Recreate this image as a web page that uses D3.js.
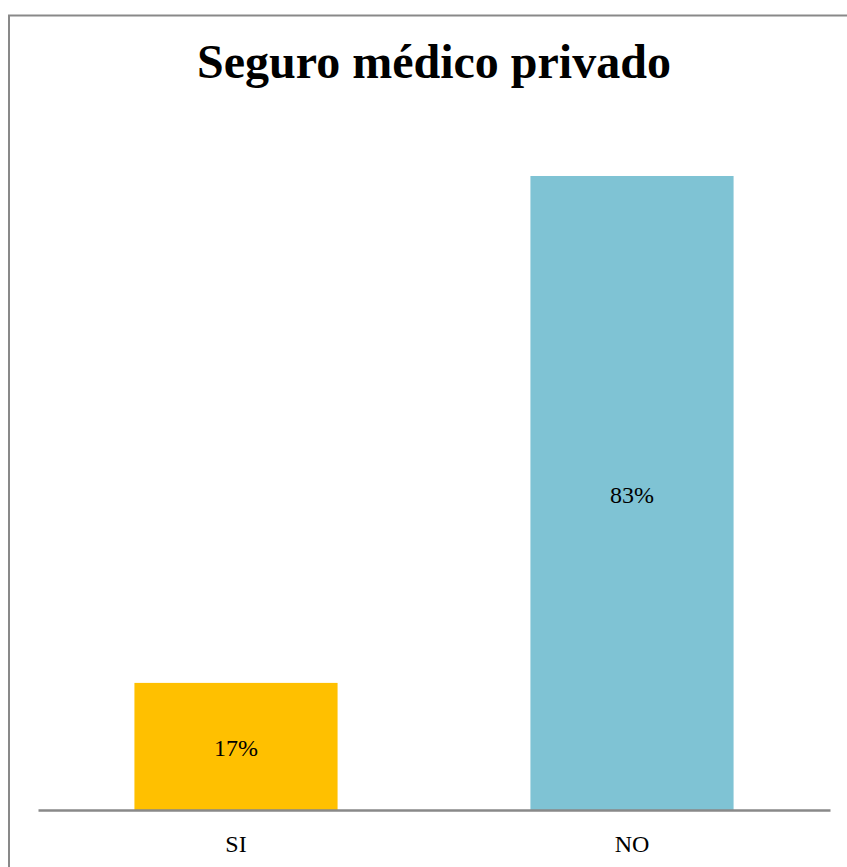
<!DOCTYPE html>
<html>
<head>
<meta charset="utf-8">
<script src="https://cdn.jsdelivr.net/npm/d3@7"></script>
<style>
  body { margin: 0; background: #fff; }
  svg { display: block; }
</style>
</head>
<body>
<div id="chart"></div>
<script>
// data
var categories = ["SI", "NO"];
var values = [16.7, 83.3];
var barColors = ["#ffc000", "#7fc3d4"];
var title = "Seguro médico privado";

var data = categories.map(function(c, i) { return {name: c, value: values[i], color: barColors[i]} });

var width = 847;
var height = 867;

var svg = d3.select("#chart").append("svg")
  .attr("width", width)
  .attr("height", height);

// chart frame (only left and top edges are inside the picture)
svg.append("rect")
  .attr("x", 9)
  .attr("y", 15.5)
  .attr("width", width + 20)
  .attr("height", height + 20)
  .attr("fill", "#fff")
  .attr("stroke", "#898989")
  .attr("stroke-width", 2);

margin = ({top: 125, right: 17, bottom: 57, left: 38});

x = d3.scaleBand()
  .domain(categories)
  .range([margin.left, width - margin.right])
  .paddingInner(0.487)
  .paddingOuter(0.2435);

y = d3.scaleLinear()
  .domain([0, 90])
  .range([height - margin.bottom, margin.top]);

svg.append("text")
  .attr("x", 434)
  .attr("y", 78)
  .attr("text-anchor", "middle")
  .style("font-family", "'Liberation Serif', 'Times New Roman', serif")
  .style("font-weight", "bold")
  .style("font-size", "48px")
  .text(title);

svg.append("g")
  .selectAll("rect")
  .data(data)
  .enter().append("rect")
  .attr("x", d => x(d.name))
  .attr("y", d => y(d.value))
  .attr("width", x.bandwidth())
  .attr("height", d => y(0) - y(d.value))
  .attr("fill", d => d.color);

svg.append("g")
  .selectAll("text")
  .data(data)
  .enter().append("text")
  .attr("x", d => x(d.name) + x.bandwidth() / 2)
  .attr("y", d => (y(0) + y(d.value)) / 2 + 10)
  .attr("text-anchor", "middle")
  .style("font-family", "'Liberation Serif', 'Times New Roman', serif")
  .style("font-size", "24px")
  .text(d => d3.format(".0f")(d.value) + "%");

xAxis = g => g
  .attr("transform", `translate(0,${y(0)})`)
  .call(d3.axisBottom(x).tickSize(0).tickPadding(25).tickSizeOuter(0))
  .call(g => g.select(".domain").attr("stroke", "#898989").attr("stroke-width", 2.5))
  .call(g => g.selectAll(".tick text")
    .style("font-family", "'Liberation Serif', 'Times New Roman', serif")
    .style("font-size", "24px")
    .attr("fill", "#000"));

svg.append("g")
  .call(xAxis);
</script>
</body>
</html>
